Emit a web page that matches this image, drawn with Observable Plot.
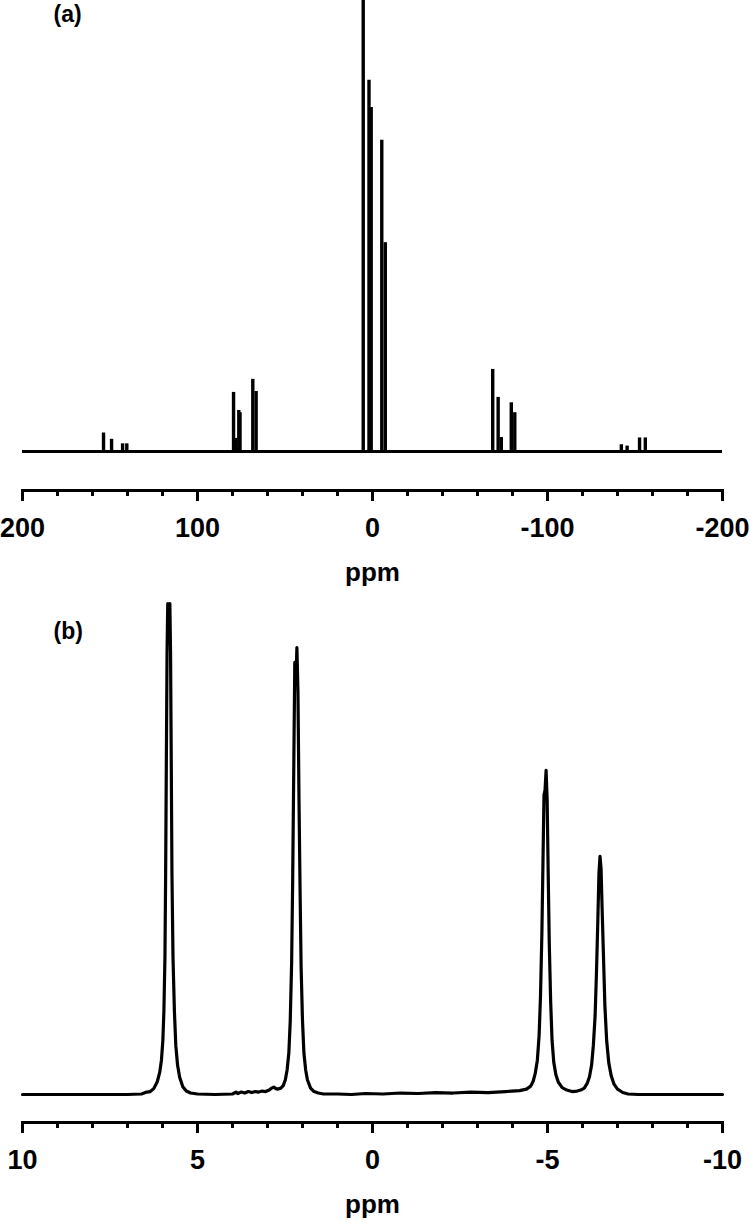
<!DOCTYPE html>
<html><head><meta charset="utf-8">
<script src="https://cdn.jsdelivr.net/npm/d3@7"></script>
<script src="https://cdn.jsdelivr.net/npm/@observablehq/plot@0.6"></script>
<style>
html,body{margin:0;padding:0;background:#fff;}
#chart{width:750px;background:#fff;}
svg{display:block;}
</style></head><body><div id="chart"></div>
<script>
// ---- Panel (a): stick spectrum (ppm, relative intensity) ----
const aPeakPpm = [153.7, 149.1, 142.8, 140.4, 79.4, 78.0, 76.4, 75.7, 68.4, 66.5, 5.3, 2.0, 0.75, -5.3, -7.3, -68.7, -71.8, -73.6, -79.3, -81.3, -142.2, -145.5, -152.6, -155.9];
const aPeakHeight = [4.1, 2.7, 1.7, 1.7, 13.1, 2.9, 9.1, 8.6, 16.0, 13.3, 100, 82.3, 76.3, 69.0, 46.3, 18.2, 12.0, 3.1, 10.8, 8.6, 1.5, 1.2, 3.0, 3.0];
const aMajorTicks = [200, 100, 0, -100, -200];
const aTickLabels = ["200", "100", "0", "-100", "-200"];
const aMinorTicks = [180, 160, 140, 120, 80, 60, 40, 20, -20, -40, -60, -80, -120, -140, -160, -180];

// ---- Panel (b): expanded spectrum ----
const bPpm = [10.0, 9.0, 8.0, 7.0, 6.6, 6.45, 6.35, 6.25, 6.15, 6.08, 6.03, 5.99, 5.96, 5.93, 5.91, 5.89, 5.87, 5.85, 5.82, 5.79, 5.77, 5.75, 5.73, 5.70, 5.66, 5.62, 5.57, 5.51, 5.42, 5.32, 5.2, 5.0, 4.5, 4.0, 3.9, 3.85, 3.75, 3.65, 3.55, 3.45, 3.35, 3.25, 3.15, 3.05, 2.95, 2.88, 2.82, 2.76, 2.70, 2.62, 2.55, 2.49, 2.44, 2.39, 2.35, 2.31, 2.28, 2.25, 2.22, 2.19, 2.16, 2.13, 2.10, 2.07, 2.04, 2.00, 1.96, 1.91, 1.86, 1.77, 1.67, 1.55, 1.4, 1.0, 0.6, 0.2, -0.3, -0.8, -1.3, -1.8, -2.3, -2.8, -3.3, -3.8, -4.2, -4.4, -4.52, -4.59, -4.65, -4.71, -4.76, -4.80, -4.84, -4.87, -4.90, -4.93, -4.96, -4.99, -5.02, -5.05, -5.09, -5.13, -5.18, -5.24, -5.31, -5.42, -5.55, -5.7, -5.85, -5.95, -6.05, -6.13, -6.2, -6.26, -6.31, -6.36, -6.40, -6.44, -6.47, -6.50, -6.53, -6.56, -6.60, -6.64, -6.69, -6.75, -6.82, -6.9, -7.0, -7.15, -7.3, -7.6, -8.5, -9.5, -10.0];
const bIntensity = [0, 0, 0, 0, 0.1, 0.5, 0.6, 1.2, 2.6, 4.5, 7, 11, 17, 28, 45, 68, 90, 100, 96, 100, 90, 68, 45, 28, 17, 10, 6, 3.5, 1.6, 0.7, 0.3, 0.1, 0, 0.1, 0.5, 0.2, 0.5, 0.3, 0.6, 0.4, 0.6, 0.5, 0.7, 0.6, 0.9, 1.3, 1.5, 1.2, 1.1, 1.3, 1.8, 3.0, 5.0, 8.5, 15, 27, 44, 66, 88, 84, 91, 82, 60, 42, 26, 15, 8.5, 5, 3, 1.3, 0.6, 0.3, 0.1, 0.1, 0, 0.2, 0.1, 0.3, 0.2, 0.4, 0.3, 0.5, 0.4, 0.6, 0.8, 1.1, 1.7, 2.7, 4.3, 7, 12, 20, 33, 47, 61, 62, 66, 60, 45, 31, 19, 11, 6.5, 4, 2.5, 1.4, 0.9, 0.6, 0.7, 0.9, 1.3, 2.2, 3.6, 6, 10, 16, 25, 36, 45, 48.5, 46, 38, 28, 18, 11, 6.5, 3.8, 2.1, 1.1, 0.4, 0.1, 0, 0, 0, 0];
const bMajorTicks = [10, 5, 0, -5, -10];
const bTickLabels = ["10", "5", "0", "-5", "-10"];
const bMinorTicks = [9, 8, 7, 6, 4, 3, 2, 1, -1, -2, -3, -4, -6, -7, -8, -9];

const xLabel = "ppm";
const FONT = '"Liberation Sans", Arial, Helvetica, sans-serif';

const peaksA = aPeakPpm.map((p, i) => ({ppm: p, h: aPeakHeight[i]}));
const specB = bPpm.map((p, i) => ({ppm: p, v: bIntensity[i]}));

function axisMarks(major, labels, minor) {
  return [
    Plot.frame({anchor: "bottom", strokeWidth: 3}),
    Plot.axisX(minor, {tickSize: 6, strokeWidth: 3, fill: "none", label: null}),
    Plot.axisX(major, {tickSize: 11, tickPadding: 16, strokeWidth: 3, fontSize: 27, fontWeight: "bold",
      tickFormat: d => labels[major.indexOf(d)], label: null}),
    Plot.text([xLabel], {text: d => d, frameAnchor: "bottom", dy: 72, lineAnchor: "top", fontSize: 26, fontWeight: "bold"})
  ];
}

const plotA = Plot.plot({
  width: 750, height: 600,
  marginLeft: 22, marginRight: 28, marginTop: 0, marginBottom: 110,
  x: {domain: [200, -200]},
  y: {domain: [0, 100], range: [451, 0], axis: null},
  style: {fontFamily: FONT, fontWeight: "bold", background: "white", color: "black", overflow: "visible"},
  marks: [
    Plot.ruleY([0], {strokeWidth: 3}),
    Plot.ruleX(peaksA, {x: "ppm", y1: 0, y2: "h", strokeWidth: 3.4}),
    ...axisMarks(aMajorTicks, aTickLabels, aMinorTicks),
    Plot.text(["(a)"], {text: d => d, frameAnchor: "top-left", dx: 31, dy: 5, lineAnchor: "top", textAnchor: "start", fontSize: 23, fontWeight: "bold"})
  ]
});

const plotB = Plot.plot({
  width: 750, height: 626,
  marginLeft: 22, marginRight: 28, marginTop: 0, marginBottom: 104,
  x: {domain: [10, -10]},
  y: {domain: [0, 100], range: [494, 3], axis: null},
  style: {fontFamily: FONT, fontWeight: "bold", background: "white", color: "black", overflow: "visible"},
  marks: [
    Plot.line(specB, {x: "ppm", y: "v", strokeWidth: 3.2}),
    ...axisMarks(bMajorTicks, bTickLabels, bMinorTicks),
    Plot.text(["(b)"], {text: d => d, frameAnchor: "top-left", dx: 31, dy: 22, lineAnchor: "top", textAnchor: "start", fontSize: 23, fontWeight: "bold"})
  ]
});

const root = document.getElementById("chart");
root.appendChild(plotA);
root.appendChild(plotB);
</script>
</body></html>
